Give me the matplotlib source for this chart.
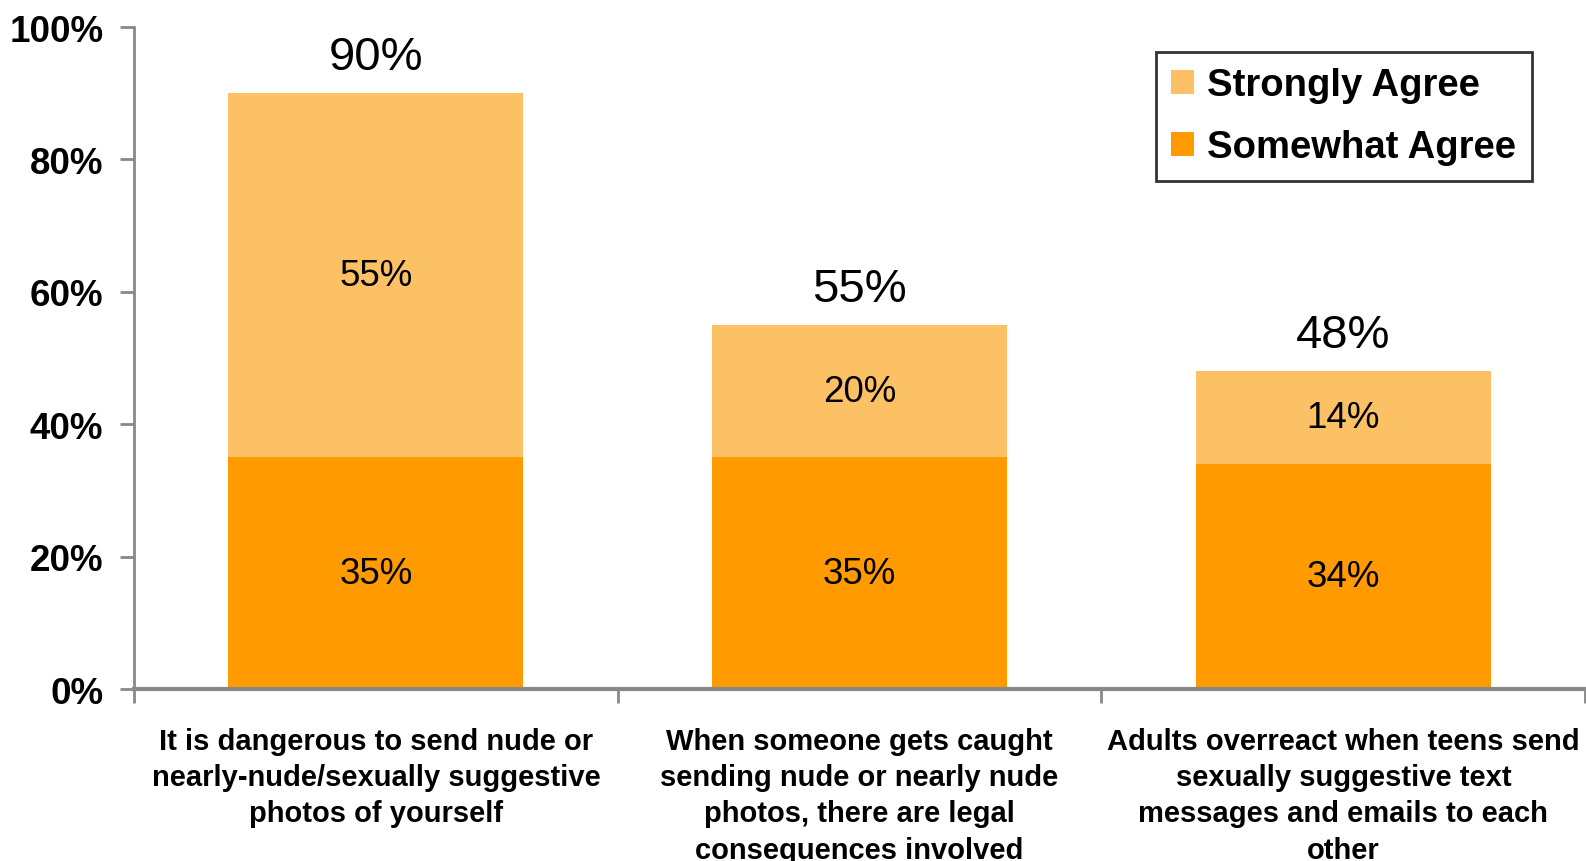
import numpy as np
import matplotlib.pyplot as plt

# Data
categories = [
    "It is dangerous to send nude or\nnearly-nude/sexually suggestive\nphotos of yourself",
    "When someone gets caught\nsending nude or nearly nude\nphotos, there are legal\nconsequences involved",
    "Adults overreact when teens send\nsexually suggestive text\nmessages and emails to each\nother",
]
somewhat = np.array([35, 35, 34])
strongly = np.array([55, 20, 14])
totals = np.array([90, 55, 48])
yticks = [0, 20, 40, 60, 80, 100]

c_strong = '#FCC164'
c_some = '#FF9A00'

fig = plt.figure(figsize=(15.86, 8.62), dpi=100)
ax = fig.add_axes([0.0845, 0.1995, 0.915, 0.768])

x = np.arange(len(categories))
w = 0.61
b1 = ax.bar(x, somewhat, w, color=c_some, label='Somewhat Agree')
b2 = ax.bar(x, strongly, w, bottom=somewhat, color=c_strong, label='Strongly Agree')

for i in range(len(x)):
    ax.text(x[i], somewhat[i] / 2, f"{somewhat[i]}%", ha='center', va='center',
            fontsize=26.5, family='Liberation Sans')
    ax.text(x[i], somewhat[i] + strongly[i] / 2, f"{strongly[i]}%", ha='center', va='center',
            fontsize=26.5, family='Liberation Sans')
    ax.annotate(f"{totals[i]}%", (x[i], totals[i]), xytext=(0, 10), textcoords='offset points',
                ha='center', va='bottom', fontsize=34, family='Liberation Sans')

ax.set_xlim(-0.5, 2.5)
ax.set_ylim(0, 100)
ax.set_yticks(yticks)
ax.set_yticklabels([f"{v}%" for v in yticks], fontsize=26.5, fontweight='bold', family='Liberation Sans')

ax.set_xticks(x)
ax.set_xticklabels(categories, fontsize=21, fontweight='bold', family='Liberation Sans', linespacing=1.38)
ax.set_xticks([-0.5, 0.5, 1.5, 2.5], minor=True)
ax.tick_params(axis='x', which='major', length=0, pad=27)
ax.tick_params(axis='x', which='minor', length=10, width=2, color='#888888')
ax.tick_params(axis='y', length=10, width=2, color='#888888', pad=12)

for s in ['top', 'right']:
    ax.spines[s].set_visible(False)
ax.spines['left'].set_color('#888888')
ax.spines['left'].set_linewidth(2)
ax.spines['bottom'].set_color('#888888')
ax.spines['bottom'].set_linewidth(3)

leg = ax.legend(handles=[b2, b1], loc='upper right', bbox_to_anchor=(0.963, 0.962),
                prop={'family': 'Liberation Sans', 'weight': 'bold', 'size': 27.5},
                frameon=True, fancybox=False, edgecolor='black', handlelength=0.6,
                handleheight=0.6, handletextpad=0.35, borderpad=0.4, labelspacing=0.68,
                borderaxespad=0)
leg.get_frame().set_linewidth(2)

fig.savefig('out.png', dpi=100)
